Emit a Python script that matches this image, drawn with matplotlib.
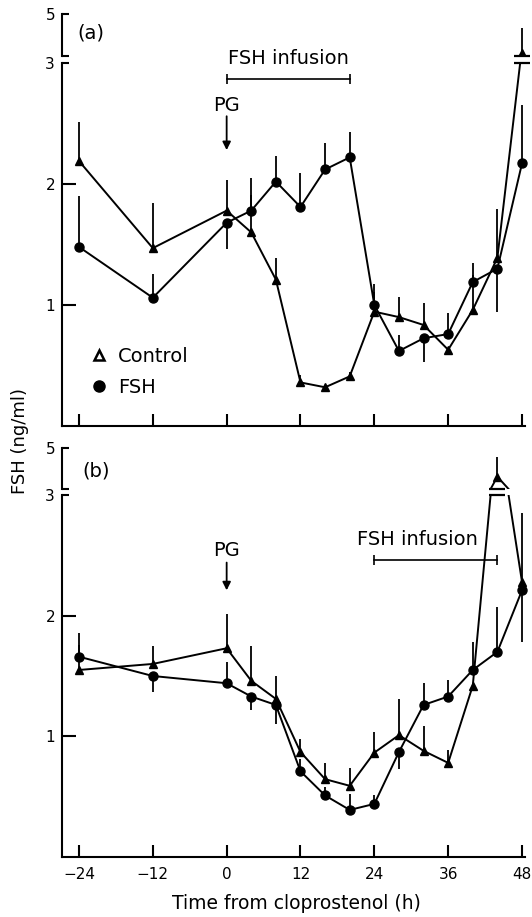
import numpy as np
import matplotlib
matplotlib.use('Agg')
import matplotlib.pyplot as plt
from matplotlib.lines import Line2D

plt.rcParams['font.family'] = ['DejaVu Sans']

# sampling times (h from cloprostenol)
time = [-24, -12, 0, 4, 8, 12, 16, 20, 24, 28, 32, 36, 40, 44, 48]
xticks = [-24, -12, 0, 12, 24, 36, 48]
xticklabels = ['\u221224', '\u221212', '0', '12', '24', '36', '48']

# panel (a): mean FSH and the end of the SEM bar
ctrl_a = [2.19, 1.47, 1.78, 1.60, 1.21, 0.36, 0.32, 0.41, 0.945, 0.90, 0.835, 0.63, 0.96, 1.39, 3.13]
ctrl_a_tip = [2.51, 1.84, 2.03, 1.91, 1.39, 0.42, 0.34, 0.45, 1.11, 1.07, 1.02, 0.63, 1.25, 1.79, 4.32]
fsh_a = [1.48, 1.06, 1.68, 1.78, 2.02, 1.81, 2.12, 2.22, 1.00, 0.62, 0.725, 0.76, 1.19, 1.30, 2.17]
fsh_a_tip = [1.90, 1.26, 1.46, 2.05, 2.23, 2.09, 2.34, 2.43, 1.17, 0.75, 0.53, 0.93, 1.35, 0.945, 2.65]

# panel (b)
ctrl_b = [1.55, 1.60, 1.73, 1.46, 1.31, 0.87, 0.645, 0.59, 0.865, 1.01, 0.88, 0.78, 1.42, 3.60, 2.28]
ctrl_b_tip = [1.76, 1.75, 2.01, 1.75, 1.50, 0.975, 0.78, 0.74, 1.035, 1.31, 1.085, 0.89, 1.42, 4.58, 2.85]
fsh_b = [1.66, 1.50, 1.44, 1.33, 1.26, 0.71, 0.51, 0.39, 0.44, 0.87, 1.26, 1.33, 1.55, 1.70, 2.21]
fsh_b_tip = [1.86, 1.37, 1.62, 1.22, 1.10, 0.81, 0.58, 0.52, 0.51, 0.73, 1.44, 1.47, 1.78, 2.07, 1.78]

# infusion periods
infusion_a = (0, 20)
infusion_b = (24, 44)

W, H = 532, 917
fig = plt.figure(figsize=(W / 100, H / 100), dpi=100)

XMIN, XMAX = -26.76, 49.6
LEFT = 62 / W
WIDTH = (62 + (XMAX - XMIN) * 6.153 - 62) / W


def fy(px):
    return 1 - px / H


def make_axes(lo_bot, lo_top, hi_bot, hi_top):
    ax_lo = fig.add_axes([LEFT, fy(lo_bot), WIDTH, fy(lo_top) - fy(lo_bot)])
    ax_hi = fig.add_axes([LEFT, fy(hi_bot), WIDTH, fy(hi_top) - fy(hi_bot)])
    for ax in (ax_lo, ax_hi):
        ax.set_xlim(XMIN, XMAX)
        ax.set_facecolor('none')
        ax.spines['top'].set_visible(False)
        ax.spines['right'].set_visible(False)
        ax.spines['left'].set_linewidth(1.5)
    ax_lo.set_ylim(0, 3)
    ax_hi.set_ylim(3, 5)
    ax_hi.spines['bottom'].set_visible(False)
    ax_hi.set_xticks([])
    ax_hi.set_yticks([3, 5], labels=['', '5'])
    ax_hi.tick_params(axis='y', direction='in', length=5, width=1.5, labelsize=11, pad=5)
    ax_lo.spines['bottom'].set_linewidth(1.5)
    ax_lo.spines['bottom'].set_bounds(XMIN, 48.5)
    ax_lo.set_xticks(xticks)
    ax_lo.set_yticks([1, 2], labels=['1', '2'])
    ax_lo.set_yticks([3], labels=['3'], minor=True)
    ax_lo.tick_params(axis='y', which='major', direction='in', length=10, width=1.5, labelsize=11, pad=5)
    ax_lo.tick_params(axis='y', which='minor', direction='in', length=5, width=1.5, labelsize=11, pad=5)
    ax_lo.tick_params(axis='x', direction='in', length=9, width=1.5, labelsize=11, pad=7)
    return ax_lo, ax_hi


def draw_panel(ax_lo, ax_hi, ctrl, ctrl_tip, fsh, fsh_tip):
    for ax in (ax_lo, ax_hi):
        ax.vlines(time, ctrl, ctrl_tip, color='k', lw=1.3)
        ax.vlines(time, fsh, fsh_tip, color='k', lw=1.3)
        ax.plot(time, ctrl, color='k', lw=1.4, marker='^', ms=6, zorder=3)
        ax.plot(time, fsh, color='k', lw=1.4, marker='o', ms=6.5, zorder=3)
    # break marks where a value runs off the lower scale
    for t, v in zip(time, ctrl):
        if v > 3:
            for ax in (ax_lo, ax_hi):
                ax.plot(t, 3, marker='_', ms=11, mew=1.6, color='k', clip_on=False, zorder=4)


def infusion(ax, span, y, text_x, text_y):
    ax.plot(span, [y, y], color='k', lw=1.2, marker='|', ms=7, mew=1.2, clip_on=False)
    ax.text(text_x, text_y, 'FSH infusion', ha='center', va='center', fontsize=14, clip_on=False)


def pg(ax, y_text, y0, y1):
    ax.text(0, y_text, 'PG', ha='center', va='center', fontsize=14)
    ax.annotate('', xy=(0, y1), xytext=(0, y0),
                arrowprops=dict(arrowstyle='-|>', color='k', lw=1.3, mutation_scale=12,
                                shrinkA=0, shrinkB=0))


# panel (a)
ax_a, ax_a_hi = make_axes(426, 63, 56, 14)
ax_a.tick_params(axis='x', labelbottom=False)
draw_panel(ax_a, ax_a_hi, ctrl_a, ctrl_a_tip, fsh_a, fsh_a_tip)
infusion(ax_a, infusion_a, 2.87, 10, 3.04)
pg(ax_a, 2.65, 2.56, 2.28)
ax_a_hi.text(0.032, 0.55, '(a)', transform=ax_a_hi.transAxes, fontsize=14, va='center', ha='left')
handles = [Line2D([], [], ls='none', marker='^', ms=7, mfc='white', mec='k', mew=1.8),
           Line2D([], [], ls='none', marker='o', ms=8, color='k')]
ax_a.legend(handles, ['Control', 'FSH'], loc='upper left', bbox_to_anchor=(0.045, 0.24),
            frameon=False, fontsize=14, handlelength=0.8, handletextpad=0.6, labelspacing=0.65,
            borderaxespad=0)

# panel (b)
ax_b, ax_b_hi = make_axes(857, 495, 489, 448)
ax_b.set_xticklabels(xticklabels)
draw_panel(ax_b, ax_b_hi, ctrl_b, ctrl_b_tip, fsh_b, fsh_b_tip)
infusion(ax_b, infusion_b, 2.46, 31, 2.63)
pg(ax_b, 2.54, 2.44, 2.21)
ax_b_hi.text(0.043, 0.45, '(b)', transform=ax_b_hi.transAxes, fontsize=14, va='center', ha='left')
ax_b.set_xlabel('Time from cloprostenol (h)', fontsize=13.5, labelpad=9)

fig.text(20 / W, fy(441), 'FSH (ng/ml)', rotation=90, ha='center', va='center', fontsize=13)

fig.savefig('out.png', dpi=100)
